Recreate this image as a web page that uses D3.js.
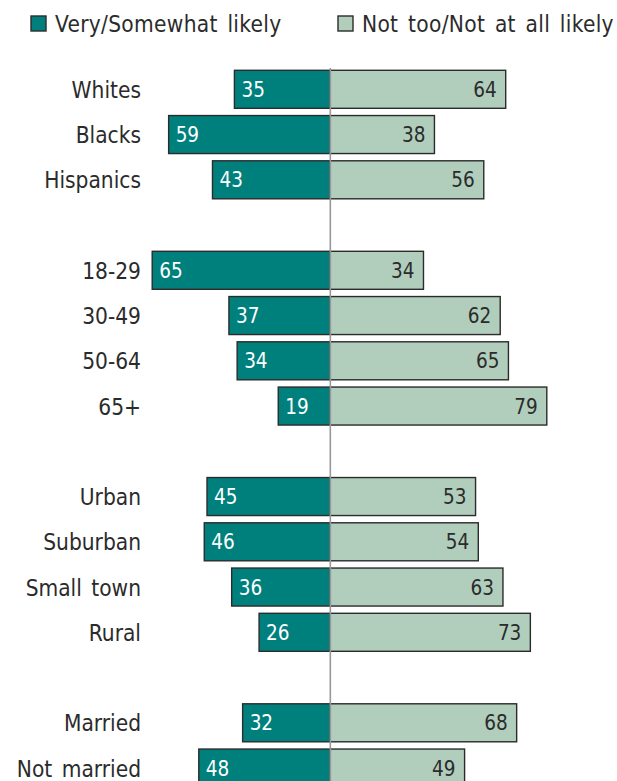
<!DOCTYPE html>
<html><head><meta charset="utf-8">
<script src="https://cdn.jsdelivr.net/npm/d3@7/dist/d3.min.js"></script>
<style>html,body{margin:0;padding:0;background:#fff;overflow:hidden}
text{font-family:'DejaVu Sans Condensed','DejaVu Sans',sans-serif;font-stretch:condensed}</style>
</head><body>
<svg id="chart" width="617" height="781"></svg>
<script>
const rows = ["Whites","Blacks","Hispanics","_g1","18-29","30-49","50-64","65+","_g2","Urban","Suburban","Small town","Rural","_g3","Married","Not married"];
const categories = ["Whites","Blacks","Hispanics","18-29","30-49","50-64","65+","Urban","Suburban","Small town","Rural","Married","Not married"];
const likely = [35,59,43,65,37,34,19,45,46,36,26,32,48];
const notLikely = [64,38,56,34,62,65,79,53,54,63,73,68,49];
const legendLabels = ["Very/Somewhat likely","Not too/Not at all likely"];
const colors = ["#00807d","#b1cebd"];

const svg = d3.select("#chart");
const x = d3.scaleLinear().domain([-65,79]).range([152.2,546.8]);
const y = d3.scalePoint().domain(rows).range([89.3,768.05]);
const bh = 38;

const data = categories.map((c,i)=>({c, a: likely[i], b: notLikely[i]}));

const g = svg.append("g");
g.selectAll("rect.a").data(data).join("rect")
  .attr("x", d=>x(-d.a)).attr("y", d=>y(d.c)-bh/2)
  .attr("width", d=>x(0)-x(-d.a)).attr("height", bh)
  .attr("fill", colors[0]).attr("stroke","#2b2b2b").attr("stroke-width",1.4);
g.selectAll("rect.b").data(data).join("rect")
  .attr("x", x(0)).attr("y", d=>y(d.c)-bh/2)
  .attr("width", d=>x(d.b)-x(0)).attr("height", bh)
  .attr("fill", colors[1]).attr("stroke","#2b2b2b").attr("stroke-width",1.4);

g.append("line").attr("x1",x(0)).attr("x2",x(0)).attr("y1",68).attr("y2",781)
  .attr("stroke","#999").attr("stroke-width",1.6);

g.selectAll("text.a").data(data).join("text")
  .attr("x", d=>x(-d.a)+7).attr("y", d=>y(d.c)).attr("dy","0.37em")
  .attr("fill","#fff").attr("font-size",20.5)
  .text(d=>d.a);
g.selectAll("text.b").data(data).join("text")
  .attr("x", d=>x(d.b)-9).attr("y", d=>y(d.c)).attr("dy","0.37em")
  .attr("text-anchor","end")
  .attr("fill","#2b2b2b").attr("font-size",20.5)
  .text(d=>d.b);

g.selectAll("text.cat").data(data).join("text")
  .attr("x",141).attr("y", d=>y(d.c)).attr("dy","0.38em")
  .attr("text-anchor","end")
  .attr("fill","#2b2b2b").attr("font-size",22.5)
  .style("word-spacing","3px")
  .text(d=>d.c);

const leg = [{x:31, tx:55},{x:338, tx:362}];
leg.forEach((l,i)=>{
  svg.append("rect").attr("x",l.x).attr("y",16).attr("width",15).attr("height",15)
    .attr("fill",colors[i]).attr("stroke","#2b2b2b").attr("stroke-width",1.4);
  svg.append("text").attr("x",l.tx).attr("y",32)
    .attr("fill","#2b2b2b").attr("font-size",22.5)
    .style("letter-spacing","0.3px").style("word-spacing","3px")
    .text(legendLabels[i]);
});
</script>
</body></html>
